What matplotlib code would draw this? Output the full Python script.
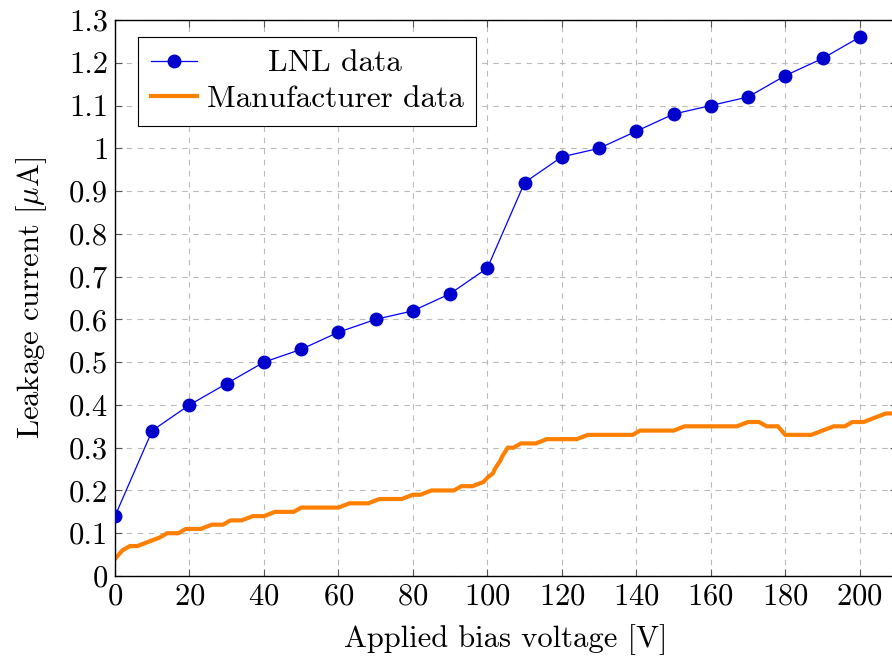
import matplotlib
matplotlib.use("Agg")
import matplotlib.pyplot as plt

# --- LNL measurements (every 10 V) ---
lnl_v = [0, 10, 20, 30, 40, 50, 60, 70, 80, 90, 100,
         110, 120, 130, 140, 150, 160, 170, 180, 190, 200]
lnl_i = [0.14, 0.34, 0.40, 0.45, 0.50, 0.53, 0.57, 0.60, 0.62, 0.66, 0.72,
         0.92, 0.98, 1.00, 1.04, 1.08, 1.10, 1.12, 1.17, 1.21, 1.26]

# --- Manufacturer curve ---
man_v = [0, 2, 4, 6, 12, 14, 17, 19, 23, 26, 29, 31, 34, 37, 40, 43, 48, 50,
         60, 63, 68, 71, 77, 80, 82, 85, 91, 93, 96, 99, 100, 101.5, 102,
         103.5, 104, 105.5, 107, 109, 113, 116, 124, 127, 139, 141, 150, 153,
         167, 170, 173, 175, 178, 180, 187, 193, 196, 198, 201, 207, 210]
man_i = [0.04, 0.06, 0.07, 0.07, 0.09, 0.10, 0.10, 0.11, 0.11, 0.12, 0.12, 0.13,
         0.13, 0.14, 0.14, 0.15, 0.15, 0.16, 0.16, 0.17, 0.17, 0.18, 0.18, 0.19,
         0.19, 0.20, 0.20, 0.21, 0.21, 0.22, 0.23, 0.24, 0.25, 0.27, 0.28, 0.30,
         0.30, 0.31, 0.31, 0.32, 0.32, 0.33, 0.33, 0.34, 0.34, 0.35, 0.35, 0.36,
         0.36, 0.35, 0.35, 0.33, 0.33, 0.35, 0.35, 0.36, 0.36, 0.38, 0.38]

xticks = list(range(0, 201, 20))
yticks = [round(0.1 * k, 1) for k in range(14)]
ytick_labels = ["0"] + [f"{v:g}" for v in yticks[1:]]

FS = 22

plt.rcParams["font.family"] = "serif"
plt.rcParams["font.serif"] = ["cmr10"]
plt.rcParams["mathtext.fontset"] = "cm"
plt.rcParams["axes.formatter.use_mathtext"] = True

fig = plt.figure(figsize=(8.92, 6.62), dpi=100)
ax = fig.add_axes([115 / 892, 1 - 576 / 662, 782 / 892, 556 / 662])

ax.plot(lnl_v, lnl_i, color="#0000ff", lw=0.9, marker="o", ms=9,
        mfc="#0000cc", mec="#0000cc", label="LNL data", zorder=3)
ax.plot(man_v, man_i, color="#ff7f00", lw=3.0, label="Manufacturer data",
        zorder=2, solid_joinstyle="miter")

ax.set_xlim(0, 210)
ax.set_ylim(0, 1.3)
ax.set_xticks(xticks)
ax.set_yticks(yticks)
ax.set_yticklabels(ytick_labels)
ax.tick_params(direction="in", length=5, width=0.8, color="#555555",
               labelsize=FS, top=True, right=True, pad=5)
ax.grid(True, ls=(0, (5, 5)), color="#bbbbbb", lw=0.8)
for s in ax.spines.values():
    s.set_linewidth(1.0)

ax.set_xlabel("Applied bias voltage [V]", fontsize=FS, labelpad=10)
ax.set_ylabel(r"Leakage current [$\mu$A]", fontsize=FS, labelpad=14)

leg = ax.legend(loc="upper left", fontsize=FS + 0.5, fancybox=False,
                framealpha=1, edgecolor="black", borderpad=0.4,
                handlelength=1.5, handletextpad=0.3, labelspacing=0.25,
                borderaxespad=0, bbox_to_anchor=(23 / 782, 1 - 17 / 556))
leg.get_frame().set_linewidth(0.8)

# centre the shorter legend entry like pgfplots does
fig.canvas.draw()
r = fig.canvas.get_renderer()
t1, t2 = leg.get_texts()
w1 = t1.get_window_extent(r).width
w2 = t2.get_window_extent(r).width
t1.set_position(((w2 - w1) / 2, 0))

fig.savefig("out.png", dpi=100)
